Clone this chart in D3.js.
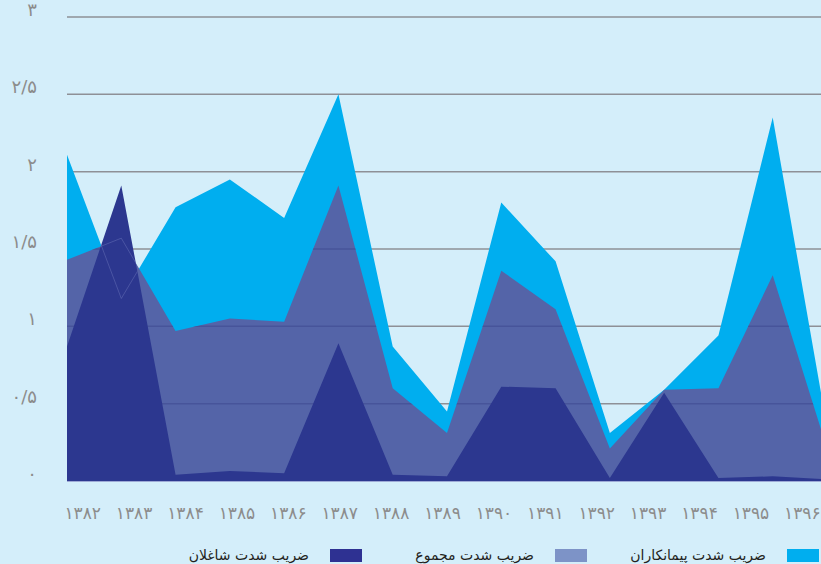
<!DOCTYPE html>
<html>
<head>
<meta charset="utf-8">
<script src="https://cdn.jsdelivr.net/npm/d3@7"></script>
<style>
  body { margin: 0; background: #d4eefa; }
  svg  { display: block; }
</style>
</head>
<body>
<svg id="chart" width="821" height="564"></svg>
<script>
// MARK: Data.

const years = ['۱۳۸۲', '۱۳۸۳', '۱۳۸۴', '۱۳۸۵', '۱۳۸۶', '۱۳۸۷', '۱۳۸۸', '۱۳۸۹',
               '۱۳۹۰', '۱۳۹۱', '۱۳۹۲', '۱۳۹۳', '۱۳۹۴', '۱۳۹۵', '۱۳۹۶']

const contractors = [2.11, 1.18, 1.77, 1.95, 1.70, 2.50, 0.87, 0.45, 1.80, 1.42, 0.31, 0.59, 0.94, 2.35, 0.35]
const total       = [1.43, 1.57, 0.97, 1.05, 1.03, 1.91, 0.60, 0.31, 1.36, 1.11, 0.21, 0.59, 0.60, 1.33, 0.21]
const employees   = [0.87, 1.91, 0.04, 0.065, 0.05, 0.89, 0.04, 0.03, 0.61, 0.60, 0.02, 0.57, 0.02, 0.03, 0.01]

const yTicks      = [0, 0.5, 1, 1.5, 2, 2.5, 3]
const yTickLabels = ['۰', '۰/۵', '۱', '۱/۵', '۲', '۲/۵', '۳']

const seriesNames = ['ضریب شدت پیمانکاران', 'ضریب شدت مجموع', 'ضریب شدت شاغلان']

// MARK: Some constants.

const WIDTH      = 821
const PLOT_LEFT  = 67
const PLOT_TOP   = 17
const PLOT_BOT   = 481
const FONT       = '"DejaVu Sans", "Noto Sans", sans-serif'

const COLORS = {
  contractors: '#00aeef',
  total      : '#5464a8',
  employees  : '#2c378f',
  grid       : '#8e9096',
  gridOnTotal: '#47549a',
  label      : '#8c8c8c',
}
const LEGEND_COLORS = ['#00aeef', '#7d93c7', '#2e3192']

// MARK: Scales.

const svg = d3.select('#chart')

const idx = d3.range(years.length)

// Data points are spaced a bit wider than the year labels; the last one falls past the edge.
const x = d3.scalePoint()
  .domain(idx)
  .range([PLOT_LEFT, 827])

const xLabel = d3.scaleBand()
  .domain(years)
  .range([57, 828])

const y = d3.scaleLinear()
  .domain([0, 3])
  .range([PLOT_BOT, PLOT_TOP])

const area = (values) => d3.area()
  .x((i) => x(i))
  .y0(y(0))
  .y1((i) => y(values[i]))(idx)

const line = (values) => d3.line()
  .x((i) => x(i))
  .y((i) => y(values[i]))(idx)

// MARK: Clip paths.

const defs = svg.append('defs')
defs.append('clipPath').attr('id', 'plot')
  .append('rect')
  .attr('x'     , PLOT_LEFT)
  .attr('y'     , 0)
  .attr('width' , WIDTH - PLOT_LEFT)
  .attr('height', PLOT_BOT + 1)
defs.append('clipPath').attr('id', 'total-clip')
  .append('path')
  .attr('d', area(total))
defs.append('clipPath').attr('id', 'employees-clip')
  .append('path')
  .attr('d', area(employees))

// MARK: Grid lines (behind the areas).

const gridGroup = svg.append('g').attr('class', 'grid')
gridGroup.selectAll('line')
  .data(yTicks).enter()
  .append('line')
  .attr('x1'          , PLOT_LEFT)
  .attr('x2'          , WIDTH)
  .attr('y1'          , (d) => y(d))
  .attr('y2'          , (d) => y(d))
  .attr('stroke'      , COLORS.grid)
  .attr('stroke-width', 1.5)

// MARK: Areas, back to front.

const plot = svg.append('g').attr('clip-path', 'url(#plot)')

plot.append('path')
  .attr('d'   , area(contractors))
  .attr('fill', COLORS.contractors)

plot.append('path')
  .attr('d'   , area(total))
  .attr('fill', COLORS.total)

// The grid shows through the "total" area only.
plot.append('g')
  .attr('clip-path', 'url(#total-clip)')
  .selectAll('line')
  .data(yTicks.filter((d) => d > 0)).enter()
  .append('line')
  .attr('x1'          , PLOT_LEFT)
  .attr('x2'          , WIDTH)
  .attr('y1'          , (d) => y(d))
  .attr('y2'          , (d) => y(d))
  .attr('stroke'      , COLORS.gridOnTotal)
  .attr('stroke-width', 1.5)

plot.append('path')
  .attr('d'   , area(employees))
  .attr('fill', COLORS.employees)

// Faint seams of the hidden series inside the front area.
const seams = plot.append('g').attr('clip-path', 'url(#employees-clip)')
for (const values of [contractors, total]) {
  seams.append('path')
    .attr('d'           , line(values))
    .attr('fill'        , 'none')
    .attr('stroke'      , 'rgba(170, 180, 230, 0.3)')
    .attr('stroke-width', 0.8)
}

// Base line.
svg.append('line')
  .attr('x1'          , PLOT_LEFT)
  .attr('x2'          , WIDTH)
  .attr('y1'          , y(0) + 0.5)
  .attr('y2'          , y(0) + 0.5)
  .attr('stroke'      , '#9eaad6')
  .attr('stroke-width', 1)

// MARK: Axis labels.

svg.append('g')
  .selectAll('text')
  .data(yTicks).enter()
  .append('text')
  .attr('x'          , 37)
  .attr('y'          , (d) => y(d) - 1)
  .attr('text-anchor', 'end')
  .attr('font-family', FONT)
  .attr('font-size'  , 18)
  .attr('fill'       , COLORS.label)
  .text((d, i) => yTickLabels[i])

svg.append('g')
  .selectAll('text')
  .data(years).enter()
  .append('text')
  .attr('x'          , (d) => xLabel(d) + xLabel.bandwidth() / 2)
  .attr('y'          , 519)
  .attr('text-anchor', 'middle')
  .attr('font-family', FONT)
  .attr('font-size'  , 17)
  .attr('fill'       , COLORS.label)
  .text((d) => d)

// MARK: Legend (right to left).

const legendSwatchX = [787, 555, 330]
const legend = svg.append('g').attr('class', 'legend')
  .selectAll('g')
  .data(seriesNames).enter()
  .append('g')
  .attr('transform', (d, i) => `translate(${legendSwatchX[i]}, 549)`)
legend.append('rect')
  .attr('width' , 32)
  .attr('height', 13)
  .attr('fill'  , (d, i) => LEGEND_COLORS[i])
legend.append('text')
  .attr('x'          , -21)
  .attr('y'          , 11)
  .attr('text-anchor', 'end')
  .attr('font-family', FONT)
  .attr('font-size'  , 14)
  .attr('fill'       , '#231f20')
  .text((d) => d)
</script>
</body>
</html>
